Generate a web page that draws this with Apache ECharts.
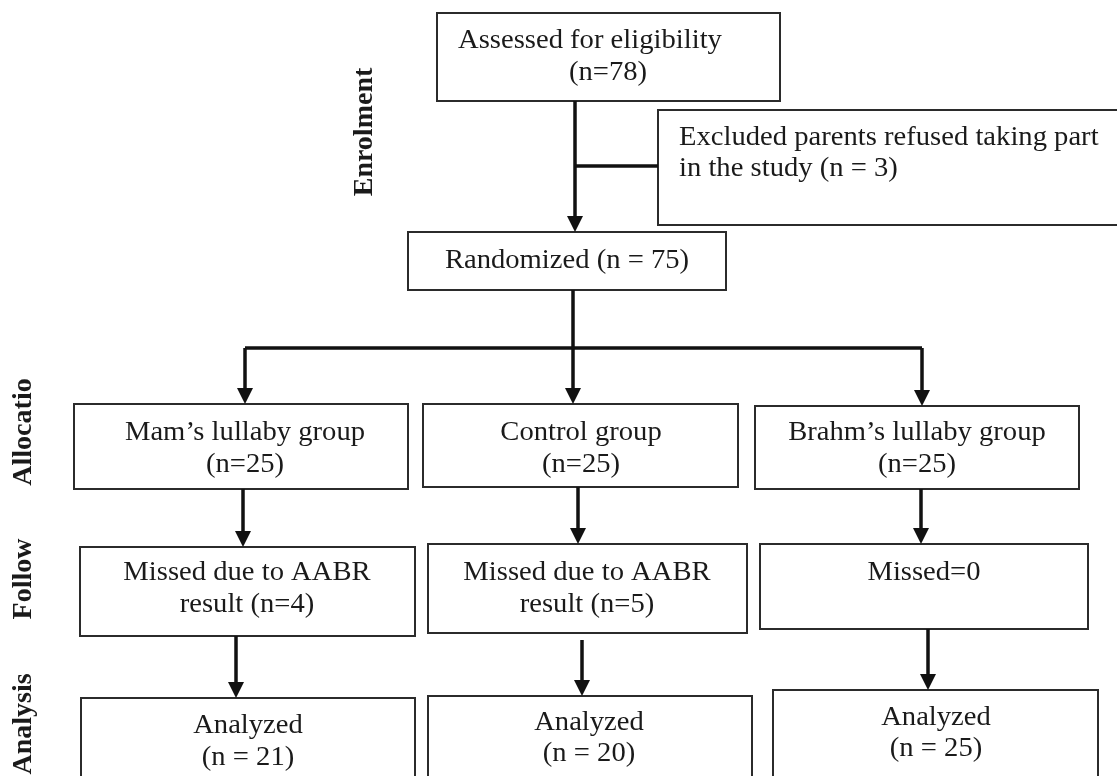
<!DOCTYPE html>
<html>
<head>
<meta charset="utf-8">
<script src="https://cdn.jsdelivr.net/npm/echarts@6/dist/echarts.min.js"></script>
<style>
html,body{margin:0;padding:0;background:#fff;}
#chart{width:1117px;height:776px;}
</style>
</head>
<body>
<div id="chart"></div>
<script>
// ---- data ----
const stageLabels = ['Enrolment', 'Allocatio', 'Follow', 'Analysis'];
const groupNames = ['Mam\u2019s lullaby group', 'Control group', 'Brahm\u2019s lullaby group'];
const assessedLabel = 'Assessed for eligibility';
const assessedN = 78;
const excludedLabel = ['Excluded parents refused taking part', 'in the study'];
const excludedN = 3;
const randomizedLabel = 'Randomized';
const randomizedN = 75;
const allocatedN = [25, 25, 25];
const missedLabel = ['Missed due to AABR', 'result'];
const missedN = [4, 5, 0];
const analyzedLabel = 'Analyzed';
const analyzedN = [21, 20, 25];

// ---- layout (canvas units on hidden 1117 x 776 axes) ----
const W = 1117, H = 776;
const layout = {
  assessed: [437, 13, 780, 101],
  excluded: [658, 110, 1130, 225],
  randomized: [408, 232, 726, 290],
  alloc: [[74, 404, 408, 489], [423, 404, 738, 487], [755, 406, 1079, 489]],
  follow: [[80, 547, 415, 636], [428, 544, 747, 633], [760, 544, 1088, 629]],
  analysis: [[81, 698, 415, 800], [428, 696, 752, 800], [773, 690, 1098, 800]],
  allocText: { cx: [245, 581, 917], y: [433, 465] },
  followText: { cx: [247, 587, 924], y: [573, 605] },
  analysisText: { cx: [248, 589, 936], y1: [726, 723, 718], y2: [758, 754, 749] },
  stageLabelPos: [[365, 132], [24, 432], [24, 579], [24, 724]]
};

// build box items
const boxes = [];
boxes.push({ r: layout.assessed, lines: [
  { t: assessedLabel, x: 458, y: 41, a: 'left' },
  { t: '(n=' + assessedN + ')', x: 608, y: 73, a: 'center' }] });
boxes.push({ r: layout.excluded, lines: [
  { t: excludedLabel[0], x: 679, y: 138, a: 'left' },
  { t: excludedLabel[1] + ' (n = ' + excludedN + ')', x: 679, y: 169, a: 'left' }] });
boxes.push({ r: layout.randomized, lines: [
  { t: randomizedLabel + ' (n = ' + randomizedN + ')', x: 567, y: 261, a: 'center' }] });
for (let i = 0; i < 3; i++) {
  boxes.push({ r: layout.alloc[i], lines: [
    { t: groupNames[i], x: layout.allocText.cx[i], y: layout.allocText.y[0], a: 'center' },
    { t: '(n=' + allocatedN[i] + ')', x: layout.allocText.cx[i], y: layout.allocText.y[1], a: 'center' }] });
  const fl = missedN[i] > 0
    ? [{ t: missedLabel[0], x: layout.followText.cx[i], y: layout.followText.y[0], a: 'center' },
       { t: missedLabel[1] + ' (n=' + missedN[i] + ')', x: layout.followText.cx[i], y: layout.followText.y[1], a: 'center' }]
    : [{ t: 'Missed=' + missedN[i], x: layout.followText.cx[i], y: layout.followText.y[0], a: 'center' }];
  boxes.push({ r: layout.follow[i], lines: fl });
  boxes.push({ r: layout.analysis[i], lines: [
    { t: analyzedLabel, x: layout.analysisText.cx[i], y: layout.analysisText.y1[i], a: 'center' },
    { t: '(n = ' + analyzedN[i] + ')', x: layout.analysisText.cx[i], y: layout.analysisText.y2[i], a: 'center' }] });
}

// connectors: points, arrow at end?
const connectors = [
  { p: [[575, 101], [575, 232]], arrow: true },
  { p: [[575, 166], [658, 166]], arrow: false },
  { p: [[573, 290], [573, 348]], arrow: false },
  { p: [[245, 348], [922, 348]], arrow: false },
  { p: [[245, 348], [245, 404]], arrow: true },
  { p: [[573, 348], [573, 404]], arrow: true },
  { p: [[922, 348], [922, 406]], arrow: true },
  { p: [[243, 489], [243, 547]], arrow: true },
  { p: [[578, 487], [578, 544]], arrow: true },
  { p: [[921, 489], [921, 544]], arrow: true },
  { p: [[236, 636], [236, 698]], arrow: true },
  { p: [[582, 640], [582, 696]], arrow: true },
  { p: [[928, 629], [928, 690]], arrow: true }
];

const FONT = '"Liberation Serif", "Times New Roman", serif';
const TEXT_COLOR = '#1a1a1a';

const chart = echarts.init(document.getElementById('chart'), null, { renderer: 'canvas' });
chart.setOption({
  backgroundColor: '#ffffff',
  animation: false,
  grid: { left: 0, right: 0, top: 0, bottom: 0 },
  xAxis: { type: 'value', min: 0, max: W, show: false },
  yAxis: { type: 'value', min: 0, max: H, inverse: true, show: false },
  series: [
    {
      type: 'custom',
      name: 'boxes',
      clip: false,
      data: boxes.map((b, i) => [b.r[0], b.r[1], b.r[2], b.r[3], i]),
      renderItem: function (params, api) {
        const b = boxes[params.dataIndex];
        const p0 = api.coord([b.r[0], b.r[1]]);
        const p1 = api.coord([b.r[2], b.r[3]]);
        const children = [{
          type: 'rect',
          shape: { x: p0[0], y: p0[1], width: p1[0] - p0[0], height: p1[1] - p0[1] },
          style: { fill: '#ffffff', stroke: '#2b2b2b', lineWidth: 2 }
        }];
        b.lines.forEach(l => {
          const pt = api.coord([l.x, l.y]);
          children.push({
            type: 'text', x: pt[0], y: pt[1], scaleX: 1.06,
            style: { text: l.t, font: '27px ' + FONT, fill: TEXT_COLOR, textAlign: l.a, textVerticalAlign: 'middle' }
          });
        });
        return { type: 'group', children: children };
      }
    },
    {
      type: 'custom',
      name: 'connectors',
      clip: false,
      data: connectors.map((c, i) => [c.p[0][0], c.p[0][1], i]),
      renderItem: function (params, api) {
        const c = connectors[params.dataIndex];
        const pts = c.p.map(q => api.coord(q));
        const children = [];
        const last = pts[pts.length - 1];
        const linePts = pts.slice();
        if (c.arrow) linePts[linePts.length - 1] = [last[0], last[1] - 10];
        children.push({
          type: 'polyline', shape: { points: linePts },
          style: { stroke: '#111', lineWidth: 3.5, fill: null }
        });
        if (c.arrow) {
          children.push({
            type: 'polygon',
            shape: { points: [[last[0], last[1]], [last[0] - 8, last[1] - 16], [last[0] + 8, last[1] - 16]] },
            style: { fill: '#111' }
          });
        }
        return { type: 'group', children: children };
      }
    },
    {
      type: 'custom',
      name: 'stages',
      clip: false,
      data: stageLabels.map((s, i) => [layout.stageLabelPos[i][0], layout.stageLabelPos[i][1], i]),
      renderItem: function (params, api) {
        const pt = api.coord([api.value(0), api.value(1)]);
        return {
          type: 'text', x: pt[0], y: pt[1], rotation: Math.PI / 2,
          style: { text: stageLabels[params.dataIndex], font: 'bold 28px ' + FONT, fill: TEXT_COLOR, textAlign: 'center', textVerticalAlign: 'middle' }
        };
      }
    }
  ]
});
</script>
</body>
</html>
